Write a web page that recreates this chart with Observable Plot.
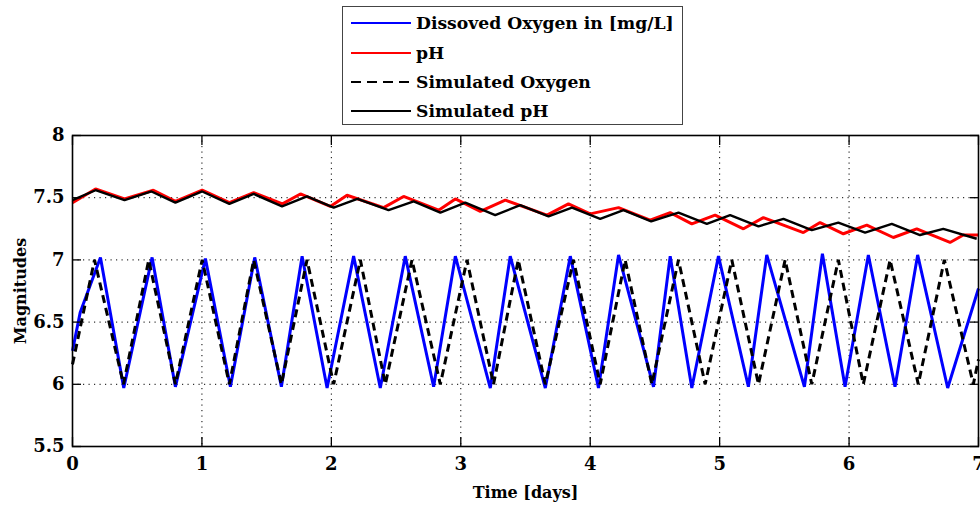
<!DOCTYPE html>
<html><head><meta charset="utf-8">
<script src="https://cdn.jsdelivr.net/npm/d3@7"></script>
<script src="https://cdn.jsdelivr.net/npm/@observablehq/plot@0.6"></script>
<style>
body{margin:0;background:#fff;width:980px;height:506px;overflow:hidden;font-family:"DejaVu Serif",serif;}
#legendArea{position:relative;height:130px;}
#legend{position:absolute;left:342px;top:6px;width:339px;height:117px;border:1.5px solid #444;background:#fff;}
.row{position:absolute;left:0;height:20px;display:flex;align-items:center;}
.row svg{margin-left:8px;display:block;}
.row span{margin-left:5px;font-weight:bold;font-size:17.2px;color:#000;white-space:nowrap;}
#chart svg{overflow:visible;}
</style></head><body>
<div id="legendArea"><div id="legend"></div></div>
<div id="chart"></div>
<script>
// ---- data (time in days) ----
const xTicks = [0, 1, 2, 3, 4, 5, 6, 7];
const yTicks = [5.5, 6, 6.5, 7, 7.5, 8];

const doDays = [0, 0.06, 0.216, 0.396, 0.615, 0.795, 1.027, 1.220, 1.408, 1.614, 1.774, 1.967, 2.172, 2.378, 2.571, 2.790, 2.958, 3.228, 3.382, 3.653, 3.846, 4.064, 4.219, 4.489, 4.618, 4.785, 4.991, 5.222, 5.364, 5.655, 5.794, 5.969, 6.149, 6.355, 6.530, 6.762, 7.0];
const doValues = [6.27, 6.58, 7.02, 5.97, 7.02, 5.98, 7.01, 5.98, 7.02, 5.98, 7.03, 5.97, 7.03, 5.97, 7.03, 5.98, 7.03, 5.97, 7.03, 5.97, 7.03, 5.97, 7.04, 5.98, 7.03, 5.97, 7.03, 5.98, 7.04, 5.98, 7.05, 5.98, 7.04, 5.98, 7.04, 5.97, 6.77];

const phDays = [0, 0.178, 0.402, 0.625, 0.795, 1.002, 1.212, 1.400, 1.622, 1.761, 1.992, 2.121, 2.404, 2.558, 2.829, 2.958, 3.151, 3.344, 3.666, 3.832, 4.000, 4.219, 4.463, 4.618, 4.785, 4.965, 5.184, 5.338, 5.647, 5.776, 5.956, 6.137, 6.342, 6.523, 6.780, 6.883, 6.998];
const phValues = [7.46, 7.57, 7.49, 7.56, 7.47, 7.56, 7.46, 7.54, 7.45, 7.53, 7.43, 7.52, 7.42, 7.51, 7.40, 7.49, 7.39, 7.48, 7.36, 7.45, 7.37, 7.42, 7.32, 7.38, 7.29, 7.36, 7.25, 7.34, 7.22, 7.30, 7.21, 7.28, 7.18, 7.25, 7.14, 7.20, 7.20];

const simOxDays = [0, 0.170, 0.394, 0.589, 0.795, 1.002, 1.212, 1.400, 1.614, 1.812, 2.018, 2.224, 2.417, 2.623, 2.842, 3.048, 3.253, 3.444, 3.653, 3.871, 4.077, 4.270, 4.476, 4.682, 4.888, 5.094, 5.300, 5.506, 5.712, 5.917, 6.110, 6.317, 6.535, 6.736, 6.960, 7.0];
const simOxValues = [6.16, 7.0, 6.0, 7.0, 6.0, 7.0, 6.0, 7.0, 6.0, 7.0, 6.0, 7.0, 6.0, 7.0, 6.0, 7.0, 6.0, 7.0, 6.0, 7.0, 6.0, 7.0, 6.0, 7.0, 6.0, 7.0, 6.0, 7.0, 6.0, 7.0, 6.0, 7.0, 6.0, 7.0, 6.0, 6.2];

const simPhDays = [0, 0.178, 0.402, 0.610, 0.795, 1.002, 1.212, 1.400, 1.619, 1.812, 2.018, 2.201, 2.442, 2.636, 2.842, 3.035, 3.266, 3.459, 3.678, 3.859, 4.077, 4.257, 4.471, 4.682, 4.901, 5.081, 5.300, 5.493, 5.712, 5.917, 6.124, 6.330, 6.548, 6.728, 6.986];
const simPhValues = [7.48, 7.56, 7.48, 7.55, 7.46, 7.55, 7.45, 7.53, 7.43, 7.51, 7.42, 7.49, 7.40, 7.47, 7.38, 7.46, 7.36, 7.44, 7.35, 7.42, 7.33, 7.40, 7.31, 7.38, 7.29, 7.36, 7.27, 7.33, 7.24, 7.30, 7.22, 7.29, 7.20, 7.25, 7.17];

const seriesNames = ["Dissoved Oxygen in [mg/L]", "pH", "Simulated Oxygen", "Simulated pH"];
const seriesColors = ["#0000ff", "#ff0000", "#000000", "#000000"];
const seriesDash = [null, null, "8,5", null];
const seriesWidth = [3, 3, 3, 2.4];

const toRows = (xs, ys) => xs.map((x, i) => ({x, y: ys[i]}));
const series = [
  toRows(doDays, doValues),
  toRows(phDays, phValues),
  toRows(simOxDays, simOxValues),
  toRows(simPhDays, simPhValues)
];

// ---- legend ----
const legend = document.getElementById("legend");
const rowCenters = [15.8, 45.5, 74.5, 103.5];
seriesNames.forEach((name, i) => {
  const row = document.createElement("div");
  row.className = "row";
  row.style.top = (rowCenters[i] - 10) + "px";
  const dash = seriesDash[i] ? ` stroke-dasharray="10,6"` : "";
  row.innerHTML = `<svg width="60" height="8"><line x1="0" y1="4" x2="60" y2="4" stroke="${seriesColors[i]}" stroke-width="2"${dash}/></svg><span>${name}</span>`;
  legend.appendChild(row);
});

// ---- chart ----
const fnt = "DejaVu Serif";
const tickFont = 18;
const lineMarks = series.map((data, i) => Plot.line(data, {
  x: "x", y: "y", stroke: seriesColors[i], strokeWidth: seriesWidth[i],
  strokeDasharray: seriesDash[i] || undefined, strokeLinejoin: "miter", strokeLinecap: "butt"
}));

const chart = Plot.plot({
  width: 980, height: 376,
  marginLeft: 72, marginRight: 2, marginTop: 5, marginBottom: 60,
  style: {fontFamily: fnt, fontSize: "18px", fontWeight: "bold", color: "#000", background: "transparent", overflow: "visible"},
  x: {domain: [0, 7]},
  y: {domain: [5.5, 8]},
  marks: [
    Plot.gridX(xTicks, {stroke: "#000", strokeOpacity: 1, strokeWidth: 1, strokeDasharray: "1.2,4.3"}),
    Plot.gridY(yTicks, {stroke: "#000", strokeOpacity: 1, strokeWidth: 1, strokeDasharray: "1.2,4.3"}),
    ...lineMarks,
    Plot.axisX(xTicks, {tickSize: 0, tickPadding: 11, tickFormat: d => String(d), label: null, fontSize: tickFont}),
    Plot.axisX(xTicks, {tickSize: -9, tickFormat: () => "", label: null, strokeWidth: 1.3}),
    Plot.axisX(xTicks, {anchor: "top", tickSize: -9, tickFormat: () => "", label: null, strokeWidth: 1.3}),
    Plot.axisY(yTicks, {tickSize: 0, tickPadding: 8, tickFormat: d => String(d), label: null, fontSize: tickFont}),
    Plot.axisY(yTicks, {tickSize: -9, tickFormat: () => "", label: null, strokeWidth: 1.3}),
    Plot.axisY(yTicks, {anchor: "right", tickSize: -9, tickFormat: () => "", label: null, strokeWidth: 1.3}),
    Plot.frame({stroke: "#000", strokeWidth: 1.6}),
    Plot.text(["Time [days]"], {frameAnchor: "bottom", dy: 51, fontSize: 16}),
    Plot.text(["Magnitudes"], {frameAnchor: "left", textAnchor: "middle", rotate: -90, dx: -52, fontSize: 16})
  ]
});
document.getElementById("chart").appendChild(chart);
</script>
</body></html>
